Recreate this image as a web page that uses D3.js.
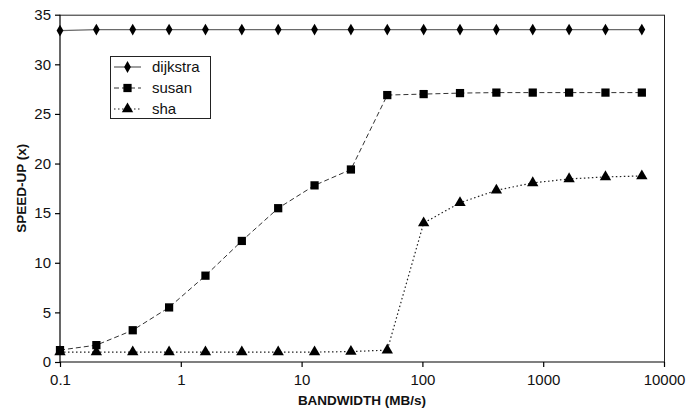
<!DOCTYPE html>
<html><head><meta charset="utf-8">
<script src="https://cdn.jsdelivr.net/npm/d3@7"></script>
<style>body{margin:0;background:#fff}svg{display:block}text{font-family:"Liberation Sans",Arial,sans-serif}</style>
</head><body>
<svg id="c" width="695" height="412"></svg>
<script>
const bandwidth = [0.1,0.2,0.4,0.8,1.6,3.2,6.4,12.8,25.6,51.2,102.4,204.8,409.6,819.2,1638.4,3276.8,6553.6];
const dijkstra = [33.4,33.5,33.5,33.5,33.5,33.5,33.5,33.5,33.5,33.5,33.5,33.5,33.5,33.5,33.5,33.5,33.5];
const susan = [1.2,1.7,3.2,5.5,8.7,12.2,15.5,17.8,19.4,26.9,27.0,27.1,27.15,27.15,27.15,27.15,27.15];
const sha = [1.0,1.0,1.0,1.0,1.0,1.0,1.0,1.0,1.05,1.2,14.0,16.05,17.3,18.05,18.45,18.65,18.75];
const xTicks = [0.1,1,10,100,1000,10000];
const xTickLabels = ["0.1","1","10","100","1000","10000"];
const yTicks = [0,5,10,15,20,25,30,35];
const seriesNames = ["dijkstra","susan","sha"];

const svg = d3.select("#c");
const L=60,R=664,T=14.7,B=362;
const x = d3.scaleLog().domain([0.1,10000]).range([L,R]);
const y = d3.scaleLinear().domain([0,35]).range([B,T]);

svg.append("line").attr("x1",L).attr("x2",R).attr("y1",T+0.5).attr("y2",T+0.5).attr("stroke","#222");
svg.append("line").attr("x1",R+0.5).attr("x2",R+0.5).attr("y1",T).attr("y2",B).attr("stroke","#222");

const xa = svg.append("g").attr("transform",`translate(0,${B})`)
  .call(d3.axisBottom(x).tickValues(xTicks).tickFormat((d,i)=>xTickLabels[i]).tickSize(5).tickPadding(7));
const ya = svg.append("g").attr("transform",`translate(${L},0)`)
  .call(d3.axisLeft(y).tickValues(yTicks).tickSize(5).tickPadding(4));
[xa,ya].forEach(a=>{a.selectAll("path,line").attr("stroke","#000").attr("stroke-width",1.2);
  a.selectAll("text").attr("font-size",15).attr("fill","#111").style("font-family","'Liberation Sans',Arial,sans-serif");});
xa.select(".domain").attr("d",`M${L},0H${R}`);
ya.select(".domain").attr("d",`M0,${B}V${T}`);

svg.append("text").attr("x",(L+R)/2).attr("y",405).attr("text-anchor","middle")
  .attr("font-size",13.5).attr("font-weight","bold").attr("fill","#111").text("BANDWIDTH (MB/s)");
svg.append("text").attr("transform",`translate(26,${(T+B)/2}) rotate(-90)`).attr("text-anchor","middle")
  .attr("font-size",13.5).attr("font-weight","bold").attr("fill","#111").text("SPEED-UP (x)");

const styles = {
  dijkstra:{dash:null,sym:d3.symbolDiamond,size:40,color:"#6a6a6a",w:1.3},
  susan:{dash:"5,3",sym:d3.symbolSquare,size:68,color:"#333",w:1},
  sha:{dash:"1.5,2.5",sym:d3.symbolTriangle,size:56,color:"#222",w:1.2}
};
const data = {dijkstra,susan,sha};
const line = d3.line().x((d,i)=>x(bandwidth[i])).y(d=>y(d));
seriesNames.forEach(n=>{
  const s=styles[n];
  svg.append("path").datum(data[n]).attr("d",line).attr("fill","none")
    .attr("stroke",s.color).attr("stroke-width",s.w).attr("stroke-dasharray",s.dash);
  svg.append("g").selectAll("path").data(data[n]).join("path")
    .attr("transform",(d,i)=>`translate(${x(bandwidth[i])},${y(d)})`)
    .attr("d",d3.symbol().type(s.sym).size(s.size)).attr("fill","#000");
});

const lg = svg.append("g");
lg.append("rect").attr("x",110.5).attr("y",56.5).attr("width",100).attr("height",62)
  .attr("fill","#fff").attr("stroke","#222").attr("stroke-width",1);
seriesNames.forEach((n,i)=>{
  const s=styles[n], cy=67+i*21;
  lg.append("line").attr("x1",114).attr("x2",141).attr("y1",cy).attr("y2",cy)
    .attr("stroke",s.color).attr("stroke-width",s.w).attr("stroke-dasharray",s.dash);
  lg.append("path").attr("transform",`translate(127.5,${cy})`).attr("d",d3.symbol().type(s.sym).size(s.size)).attr("fill","#000");
  lg.append("text").attr("x",152).attr("y",cy+5).attr("font-size",15).attr("fill","#111").text(n);
});
</script>
</body></html>
